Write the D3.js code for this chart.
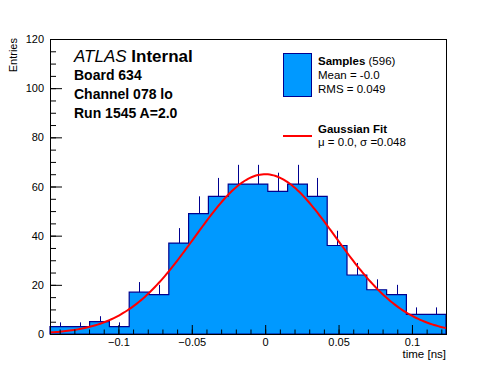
<!DOCTYPE html>
<html>
<head>
<meta charset="utf-8">
<script src="https://cdn.jsdelivr.net/npm/d3@7"></script>
<style>
  body { margin: 0; background: #fff; }
  text { font-family: "Liberation Sans", Arial, sans-serif; }
</style>
</head>
<body>
<script>
// histogram of pulse times, 20 bins over the frame range
const binCounts = [3, 3, 5, 3, 17, 16, 37, 49, 56, 61, 61, 58, 61, 56, 36, 24, 18, 16, 8, 8];
const xRange = [-0.1466, 0.1232];
const yRange = [0, 120];

const xTickValues = [-0.1, -0.05, 0, 0.05, 0.1];
const xTickLabels = ["\u22120.1", "\u22120.05", "0", "0.05", "0.1"];
const yTickValues = [0, 20, 40, 60, 80, 100, 120];
const yTickLabels = ["0", "20", "40", "60", "80", "100", "120"];

// gaussian fit result
const fitMean = 0.0, fitSigma = 0.048, fitAmp = 65;

const infoLines = ["Board 634", "Channel 078 lo", "Run 1545 A=2.0"];

const width = 496, height = 372;
const frame = { left: 50, right: 446, top: 39, bottom: 334 };

const svg = d3.select("body").append("svg")
  .attr("width", width)
  .attr("height", height);

svg.append("rect").attr("width", width).attr("height", height).attr("fill", "#fff");

const x = d3.scaleLinear().domain(xRange).range([frame.left, frame.right]);
const y = d3.scaleLinear().domain(yRange).range([frame.bottom, frame.top]);

const nBins = binCounts.length;
const binW = (xRange[1] - xRange[0]) / nBins;
const bins = binCounts.map((c, i) => ({ x0: xRange[0] + i * binW, x1: xRange[0] + (i + 1) * binW, n: c }));

// step outline of histogram
const stepPts = [[x(xRange[0]), y(0)]];
bins.forEach(b => { stepPts.push([x(b.x0), y(b.n)]); stepPts.push([x(b.x1), y(b.n)]); });
stepPts.push([x(xRange[1]), y(0)]);

svg.append("path")
  .attr("d", d3.line()(stepPts) + "Z")
  .attr("fill", "#0099ff")
  .attr("stroke", "#00008f")
  .attr("stroke-width", 1.2);

// upper half of the poisson error bars
svg.append("g")
  .attr("stroke", "#00008f")
  .attr("stroke-width", 1)
  .selectAll("line")
  .data(bins)
  .join("line")
  .attr("x1", d => Math.round(x((d.x0 + d.x1) / 2)) + 0.5)
  .attr("x2", d => Math.round(x((d.x0 + d.x1) / 2)) + 0.5)
  .attr("y1", d => y(d.n))
  .attr("y2", d => y(d.n + Math.sqrt(d.n)));

// fit curve
const curveX = d3.range(0, 201).map(i => xRange[0] + (xRange[1] - xRange[0]) * i / 200);
svg.append("path")
  .datum(curveX)
  .attr("fill", "none")
  .attr("stroke", "#ff0000")
  .attr("stroke-width", 2)
  .attr("d", d3.line()
    .x(d => x(d))
    .y(d => y(fitAmp * Math.exp(-((d - fitMean) ** 2) / (2 * fitSigma * fitSigma)))));

// axes
svg.append("g")
  .attr("transform", `translate(${frame.left},0)`)
  .call(d3.axisLeft(y).tickValues(yTickValues).tickFormat((d, i) => yTickLabels[i]).tickSizeInner(-12).tickSizeOuter(0).tickPadding(6));
svg.append("g")
  .attr("transform", `translate(${frame.left},0)`)
  .call(d3.axisLeft(y).tickValues(d3.range(0, 121, 5)).tickFormat("").tickSizeInner(-6).tickSizeOuter(0));

svg.append("g")
  .attr("transform", `translate(0,${frame.bottom})`)
  .call(d3.axisBottom(x).tickValues(xTickValues).tickFormat((d, i) => xTickLabels[i]).tickSizeInner(-9).tickSizeOuter(0).tickPadding(4));
svg.append("g")
  .attr("transform", `translate(0,${frame.bottom})`)
  .call(d3.axisBottom(x).tickValues(d3.range(-14, 13).map(d => d / 100)).tickFormat("").tickSizeInner(-4.5).tickSizeOuter(0));

svg.selectAll(".domain").remove();
svg.selectAll(".tick line").attr("stroke", "#000");
svg.selectAll(".tick text")
  .attr("fill", "#000")
  .style("font-family", "'Liberation Sans', Arial, sans-serif")
  .style("font-size", "11px");

// frame
svg.append("rect")
  .attr("x", frame.left + 0.5).attr("y", frame.top + 0.5)
  .attr("width", frame.right - frame.left).attr("height", frame.bottom - frame.top)
  .attr("fill", "none").attr("stroke", "#000").attr("stroke-width", 1);

// axis titles
svg.append("text")
  .attr("transform", "translate(17,38) rotate(-90)")
  .attr("text-anchor", "end")
  .style("font-size", "11px")
  .text("Entries");
svg.append("text")
  .attr("x", frame.right).attr("y", 358)
  .attr("text-anchor", "end")
  .style("font-size", "11.5px")
  .text("time [ns]");

// ATLAS label
const atlas = svg.append("text").attr("x", 74).attr("y", 62).style("font-size", "17px");
atlas.append("tspan").style("font-style", "italic").text("ATLAS ");
atlas.append("tspan").style("font-weight", "bold").text("Internal");

svg.append("g").selectAll("text")
  .data(infoLines)
  .join("text")
  .attr("x", 74)
  .attr("y", (d, i) => 80 + i * 19)
  .style("font-size", "14px")
  .style("font-weight", "bold")
  .text(d => d);

// legend
const leg = svg.append("g").style("font-size", "11.5px");
leg.append("rect")
  .attr("x", 283.5).attr("y", 53.5).attr("width", 28).attr("height", 43)
  .attr("fill", "#0099ff").attr("stroke", "#00008f").attr("stroke-width", 1);
const s1 = leg.append("text").attr("x", 318).attr("y", 65);
s1.append("tspan").style("font-weight", "bold").text("Samples");
s1.append("tspan").text(" (596)");
leg.append("text").attr("x", 318).attr("y", 79).text("Mean = -0.0");
leg.append("text").attr("x", 318).attr("y", 93).text("RMS = 0.049");

leg.append("line")
  .attr("x1", 283).attr("x2", 312).attr("y1", 136).attr("y2", 136)
  .attr("stroke", "#ff0000").attr("stroke-width", 2);
leg.append("text").attr("x", 318).attr("y", 132.5).style("font-weight", "bold").text("Gaussian Fit");
leg.append("text").attr("x", 318).attr("y", 146).text("\u03bc = 0.0, \u03c3 =0.048");
</script>
</body>
</html>
